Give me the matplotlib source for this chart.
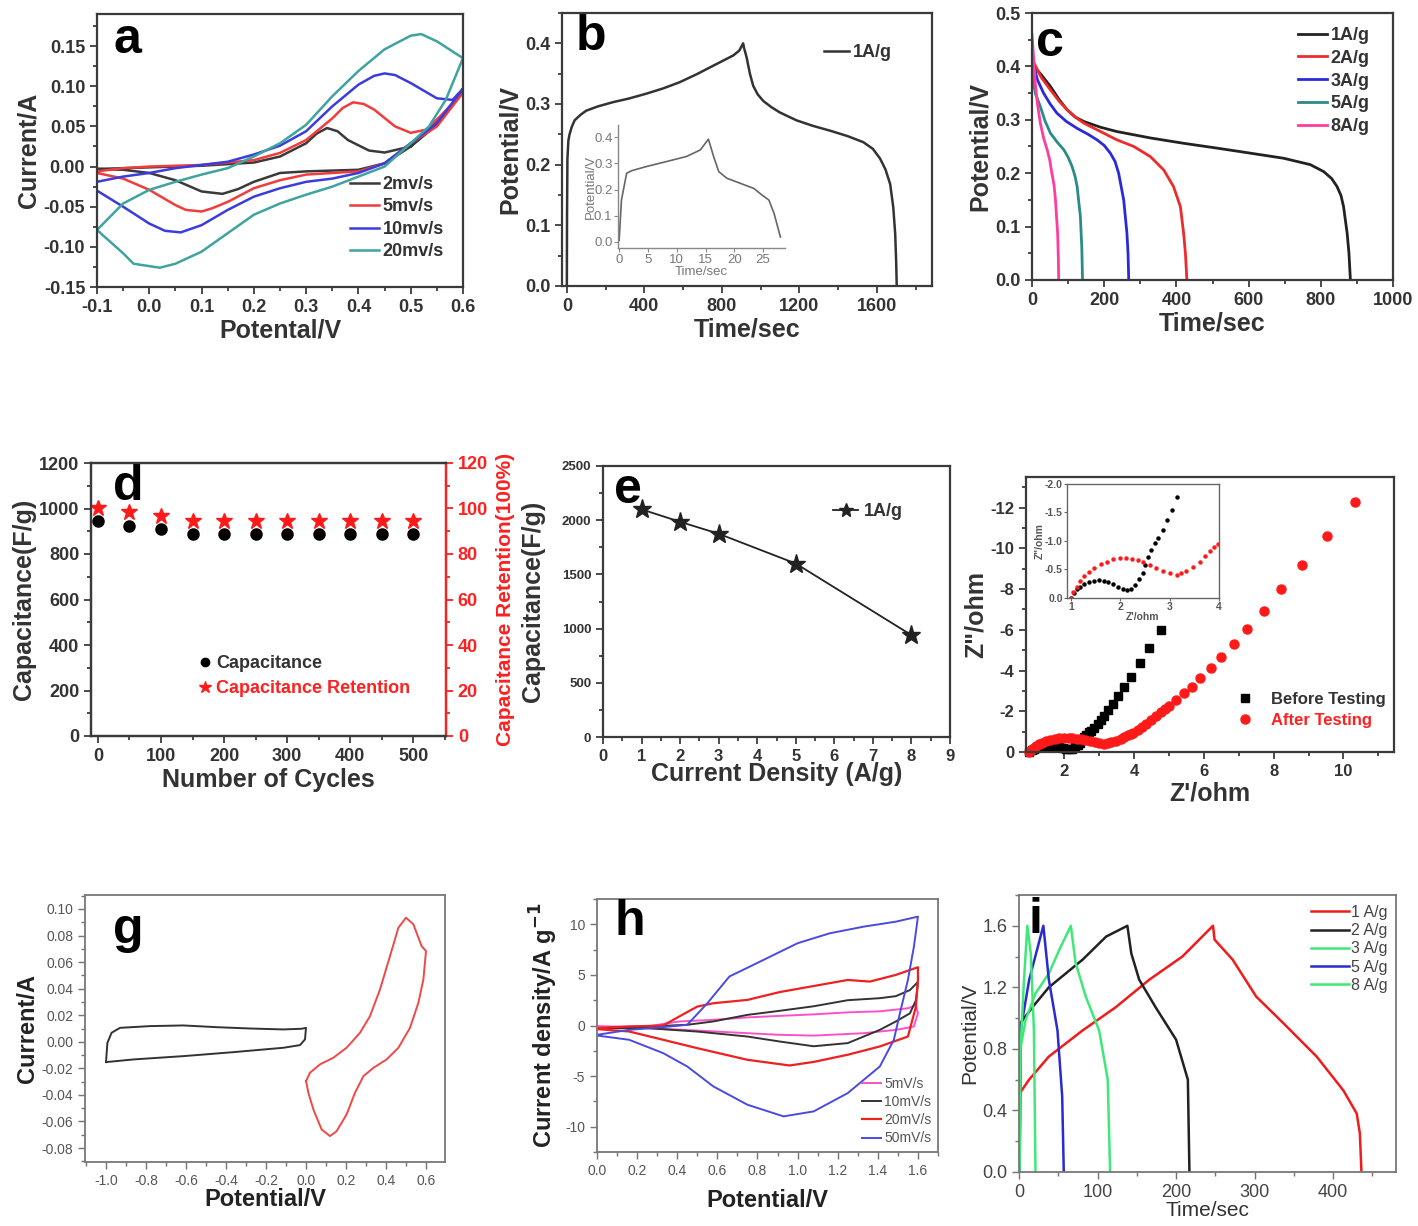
import matplotlib
matplotlib.use("Agg")
import matplotlib.pyplot as plt
from matplotlib.ticker import MultipleLocator

plt.rcParams['font.family'] = ['Liberation Sans', 'DejaVu Sans']
plt.rcParams['axes.unicode_minus'] = False

# ---------------- data ----------------
# (a) CV at different scan rates, loop: anodic branch then cathodic branch
a_2_x = [-0.1, -0.05, 0.0, 0.05, 0.1, 0.15, 0.2, 0.25, 0.3, 0.32, 0.34, 0.36, 0.38, 0.42, 0.45, 0.5, 0.55, 0.6,
         0.55, 0.5, 0.45, 0.4, 0.3, 0.25, 0.2, 0.17, 0.14, 0.1, 0.05, 0.0, -0.05, -0.1]
a_2_y = [-0.003, -0.002, -0.001, 0.0, 0.001, 0.003, 0.005, 0.0125, 0.029, 0.041, 0.048, 0.044, 0.033, 0.02, 0.0175, 0.025, 0.052, 0.094,
         0.055, 0.025, 0.004, -0.004, -0.006, -0.008, -0.019, -0.028, -0.034, -0.031, -0.017, -0.008, -0.004, -0.003]
a_5_x = [-0.1, -0.05, 0.0, 0.1, 0.2, 0.25, 0.3, 0.35, 0.37, 0.39, 0.41, 0.43, 0.47, 0.5, 0.53, 0.56, 0.6,
         0.55, 0.5, 0.45, 0.4, 0.3, 0.25, 0.2, 0.15, 0.12, 0.1, 0.07, 0.05, 0.0, -0.05, -0.1]
a_5_y = [-0.006, -0.002, 0.0, 0.002, 0.008, 0.017, 0.033, 0.06, 0.073, 0.08, 0.078, 0.071, 0.05, 0.042, 0.046, 0.065, 0.092,
         0.05, 0.029, 0.004, -0.006, -0.010, -0.017, -0.027, -0.044, -0.052, -0.056, -0.054, -0.048, -0.029, -0.015, -0.008]
a_10_x = [-0.1, -0.05, 0.0, 0.05, 0.1, 0.15, 0.2, 0.25, 0.3, 0.35, 0.4, 0.43, 0.45, 0.47, 0.5, 0.55, 0.58, 0.6,
          0.55, 0.5, 0.45, 0.4, 0.35, 0.3, 0.25, 0.2, 0.15, 0.1, 0.06, 0.03, 0.0, -0.05, -0.1]
a_10_y = [-0.019, -0.0125, -0.008, -0.002, 0.002, 0.006, 0.015, 0.026, 0.044, 0.075, 0.102, 0.113, 0.116, 0.114, 0.104, 0.085, 0.083, 0.097,
          0.054, 0.029, 0.004, -0.008, -0.015, -0.019, -0.027, -0.0375, -0.054, -0.073, -0.082, -0.08, -0.071, -0.05, -0.03]
a_20_x = [-0.1, -0.05, 0.0, 0.05, 0.1, 0.15, 0.2, 0.25, 0.3, 0.35, 0.4, 0.45, 0.5, 0.52, 0.55, 0.6,
          0.567, 0.535, 0.5, 0.45, 0.4, 0.35, 0.3, 0.25, 0.2, 0.15, 0.1, 0.05, 0.02, -0.03, -0.05, -0.1]
a_20_y = [-0.079, -0.046, -0.029, -0.019, -0.01, -0.002, 0.0125, 0.029, 0.052, 0.0875, 0.119, 0.146, 0.163, 0.165, 0.156, 0.135,
          0.083, 0.05, 0.029, 0.0, -0.0125, -0.025, -0.035, -0.046, -0.06, -0.083, -0.106, -0.121, -0.126, -0.121, -0.108, -0.079]

# (b) GCD at 1 A/g and inset
b_t = [0, 1, 3, 8, 14, 25, 40, 70, 100, 160, 238, 320, 410, 500, 583, 670, 755, 810, 859, 890, 910,
       915, 928, 945, 962, 985, 1014, 1055, 1100, 1186, 1270, 1359, 1450, 1531, 1580, 1617, 1645, 1669, 1685, 1695, 1700, 1703]
b_v = [0, 0.12, 0.21, 0.24, 0.25, 0.262, 0.273, 0.282, 0.289, 0.296, 0.303, 0.309, 0.317, 0.326, 0.336, 0.349, 0.363, 0.372, 0.38, 0.388, 0.4,
       0.392, 0.377, 0.35, 0.33, 0.316, 0.305, 0.295, 0.286, 0.273, 0.264, 0.256, 0.247, 0.237, 0.226, 0.21, 0.192, 0.168, 0.13, 0.086, 0.04, 0]
bi_t = [0, 0.4, 1.3, 2.2, 4.8, 8.3, 11.7, 14.1, 15.5, 16.4, 17.3, 18.7, 21, 23.4, 24.8, 26, 26.9, 28]
bi_v = [0.006, 0.16, 0.262, 0.272, 0.288, 0.307, 0.326, 0.351, 0.392, 0.326, 0.268, 0.243, 0.224, 0.204, 0.179, 0.16, 0.109, 0.019]

# (c) discharge curves
c_1_t = [0, 5, 25, 51, 75, 97, 120, 143, 190, 235, 328, 420, 512, 605, 697, 771, 808, 830, 845, 856, 863, 873, 878, 882]
c_1_v = [0.42, 0.4, 0.385, 0.3625, 0.338, 0.319, 0.305, 0.297, 0.286, 0.278, 0.266, 0.256, 0.247, 0.2375, 0.228, 0.216, 0.203, 0.19, 0.175, 0.158, 0.1375, 0.0875, 0.05, 0]
c_2_t = [0, 3, 25, 51, 75, 97, 120, 143, 190, 235, 282, 328, 365, 392, 411, 420, 425, 429]
c_2_v = [0.43, 0.41, 0.38, 0.356, 0.335, 0.319, 0.305, 0.294, 0.278, 0.2625, 0.25, 0.231, 0.206, 0.175, 0.1375, 0.0875, 0.05, 0]
c_3_t = [0, 3, 15, 32, 50, 69, 95, 125, 155, 180, 200, 217, 230, 240, 254, 263, 266, 268]
c_3_v = [0.42, 0.406, 0.375, 0.35, 0.33, 0.3125, 0.297, 0.284, 0.273, 0.2625, 0.252, 0.2375, 0.222, 0.2, 0.15, 0.0875, 0.05, 0]
c_5_t = [0, 2, 10, 23, 36, 51, 70, 88, 100, 111, 119, 125, 134, 138, 140]
c_5_v = [0.4, 0.375, 0.348, 0.325, 0.298, 0.275, 0.258, 0.244, 0.23, 0.2125, 0.195, 0.175, 0.119, 0.06, 0]
c_8_t = [0, 2, 5, 9, 15, 23, 32, 42, 49, 55, 61, 65, 71, 73, 74]
c_8_v = [0.46, 0.44, 0.41, 0.369, 0.33, 0.294, 0.266, 0.244, 0.225, 0.2, 0.178, 0.15, 0.0875, 0.04, 0]

# (d) cycling
d_cycles = [0, 50, 100, 150, 200, 250, 300, 350, 400, 450, 500]
d_cap = [945, 925, 908, 890, 890, 890, 890, 890, 890, 890, 890]
d_ret = [100, 98.3, 96.7, 94.6, 94.6, 94.6, 94.6, 94.6, 94.6, 94.6, 94.6]

# (e) rate capability
e_density = [1, 2, 3, 5, 8]
e_cap = [2100, 1985, 1875, 1600, 940]

# (f) Nyquist, Z' and Z''
f_before_re = [1.00, 1.06, 1.12, 1.19, 1.26, 1.36, 1.46, 1.56, 1.66, 1.76, 1.86, 1.96, 2.06, 2.14, 2.22, 2.30, 2.38,
               2.45, 2.51, 2.57, 2.63, 2.70, 2.77, 2.86, 2.95, 3.05, 3.15, 3.26, 3.39, 3.53, 3.70, 3.91, 4.17, 4.44, 4.78]
f_before_im = [0.00, -0.08, -0.15, -0.20, -0.24, -0.28, -0.30, -0.31, -0.30, -0.28, -0.25, -0.20, -0.15, -0.14, -0.16, -0.23, -0.33,
               -0.44, -0.58, -0.72, -0.85, -0.96, -1.05, -1.19, -1.36, -1.55, -1.78, -2.06, -2.38, -2.75, -3.17, -3.70, -4.36, -5.10, -6.00]
f_after_re = [1.00, 1.05, 1.12, 1.19, 1.26, 1.36, 1.46, 1.60, 1.73, 1.86, 2.00, 2.12, 2.23, 2.35, 2.47, 2.60, 2.73, 2.87, 3.00,
              3.14, 3.24, 3.34, 3.47, 3.61, 3.71, 3.81, 3.90, 3.98, 4.10, 4.22, 4.35, 4.48, 4.62, 4.76, 4.88, 4.99, 5.21,
              5.44, 5.66, 5.90, 6.19, 6.50, 6.85, 7.24, 7.71, 8.22, 8.82, 9.53, 10.33]
f_after_im = [0.00, -0.10, -0.20, -0.30, -0.38, -0.46, -0.53, -0.59, -0.64, -0.68, -0.70, -0.70, -0.68, -0.66, -0.63, -0.58, -0.53,
              -0.48, -0.43, -0.41, -0.43, -0.47, -0.55, -0.64, -0.73, -0.82, -0.89, -0.95, -1.08, -1.22, -1.38, -1.55, -1.75,
              -1.95, -2.10, -2.25, -2.55, -2.88, -3.21, -3.62, -4.10, -4.65, -5.31, -6.05, -6.94, -7.98, -9.18, -10.60, -12.29]

# (g) CV of the two electrodes
g_neg_x = [-1.0, -0.993, -0.972, -0.93, -0.78, -0.613, -0.447, -0.28, -0.113, -0.022, 0.0, -0.005, -0.03, -0.113, -0.363, -0.613, -0.863, -1.0]
g_neg_y = [-0.0153, -0.0008, 0.0068, 0.0105, 0.0118, 0.0123, 0.011, 0.010, 0.0093, 0.0098, 0.0105, 0.0018, -0.0025, -0.0045, -0.0078, -0.0108, -0.0133, -0.0153]
g_pos_x = [0.0, 0.02, 0.07, 0.137, 0.203, 0.27, 0.32, 0.37, 0.42, 0.462, 0.5, 0.537, 0.578, 0.6, 0.587, 0.562, 0.52, 0.462,
           0.403, 0.337, 0.287, 0.245, 0.203, 0.153, 0.12, 0.078, 0.037, 0.012, 0.0]
g_pos_y = [-0.0296, -0.0233, -0.017, -0.012, -0.0045, 0.0068, 0.0193, 0.0394, 0.0645, 0.0859, 0.0934, 0.0884, 0.072, 0.0683, 0.047,
           0.0294, 0.0105, -0.0045, -0.0133, -0.0196, -0.0259, -0.0384, -0.0547, -0.0673, -0.071, -0.066, -0.051, -0.0384, -0.0296]

# (h) CV of the device
h_5_x = [0.0, 0.25, 0.41, 0.58, 0.75, 0.91, 1.08, 1.25, 1.41, 1.55, 1.59, 1.6, 1.58, 1.49, 1.33, 1.08, 0.91, 0.75, 0.5, 0.25, 0.0]
h_5_y = [-0.1, -0.1, 0.4, 0.56, 0.8, 0.95, 1.1, 1.3, 1.4, 1.7, 2.0, 1.2, -0.1, -0.43, -0.76, -1.0, -0.92, -0.76, -0.5, -0.26, -0.1]
h_10_x = [0.0, 0.25, 0.45, 0.58, 0.75, 0.91, 1.08, 1.25, 1.41, 1.49, 1.56, 1.6, 1.59, 1.56, 1.49, 1.41, 1.25, 1.08, 0.91, 0.75, 0.5, 0.25, 0.0]
h_10_y = [-0.26, -0.1, 0.07, 0.4, 1.05, 1.45, 1.9, 2.5, 2.7, 2.9, 3.5, 4.3, 2.5, 1.2, 0.4, -0.43, -1.74, -2.05, -1.58, -1.09, -0.6, -0.26, -0.26]
h_20_x = [0.0, 0.16, 0.33, 0.41, 0.5, 0.58, 0.75, 0.91, 1.08, 1.25, 1.36, 1.49, 1.6, 1.6, 1.59, 1.55, 1.41, 1.25, 1.08, 0.96, 0.75, 0.5, 0.33, 0.16, 0.0]
h_20_y = [-0.26, -0.1, 0.0, 0.89, 1.87, 2.2, 2.53, 3.3, 3.9, 4.5, 4.34, 5.0, 5.76, 4.5, 1.87, -1.09, -2.07, -2.89, -3.6, -3.95, -3.39, -2.24, -1.41, -0.59, -0.36]
h_50_x = [0.0, 0.16, 0.33, 0.45, 0.55, 0.66, 0.83, 1.0, 1.16, 1.33, 1.49, 1.6, 1.58, 1.55, 1.51, 1.48, 1.41, 1.25, 1.08, 0.93, 0.75, 0.58, 0.45, 0.33, 0.16, 0.0]
h_50_y = [-0.92, -0.43, -0.16, 0.07, 2.2, 4.84, 6.48, 8.13, 9.11, 9.77, 10.26, 10.76, 7.8, 4.5, 1.2, -1.41, -4.05, -6.68, -8.49, -8.98, -7.83, -6.02, -4.05, -2.73, -1.41, -0.99]

# (i) GCD of the device
i_1_t = [0.8, 0.8, 12.8, 38, 81, 123, 166, 208, 247, 249, 272, 302, 336, 379, 413, 430, 434, 436]
i_1_v = [0, 0.51, 0.6, 0.75, 0.92, 1.07, 1.25, 1.4, 1.6, 1.51, 1.38, 1.14, 0.97, 0.75, 0.53, 0.38, 0.25, 0]
i_2_t = [0.8, 2, 17, 38, 81, 111, 138, 143, 153, 174, 200, 215, 217]
i_2_v = [0, 0.97, 1.07, 1.2, 1.38, 1.53, 1.6, 1.42, 1.25, 1.07, 0.86, 0.6, 0]
i_3_t = [0.8, 1, 2, 8.5, 21, 38, 51, 66, 72, 85, 102, 113, 116]
i_3_v = [0, 0.38, 0.81, 0.99, 1.16, 1.29, 1.44, 1.6, 1.36, 1.14, 0.92, 0.6, 0]
i_5_t = [0.8, 2, 13, 31, 38, 49, 55, 57]
i_5_v = [0, 0.92, 1.25, 1.6, 1.25, 0.92, 0.49, 0]
i_8_t = [0.8, 2, 6.4, 10.6, 15, 19, 21]
i_8_v = [0, 0.81, 1.25, 1.6, 1.42, 0.92, 0]

# ---------------- figure ----------------
W, H = 1418, 1226
fig = plt.figure(figsize=(W / 100, H / 100), dpi=100)


def place(box):
    l, r, t, b = box
    return fig.add_axes([l / W, 1 - b / H, (r - l) / W, (b - t) / H])


def at(box, px, py):
    l, r, t, b = box
    return ((px - l) / (r - l), (b - py) / (b - t))


def style(ax, fs=13, bold=True, col='#3a3a3a', tcol='#333333', lw=1.6):
    for s in ax.spines.values():
        s.set_color(col)
        s.set_linewidth(lw)
    ax.tick_params(which='both', direction='out', color=col, width=lw * 0.8, top=False, right=False)
    ax.tick_params(which='major', length=5, labelsize=fs, labelcolor=tcol)
    ax.tick_params(which='minor', length=3)
    plt.setp(ax.get_xticklabels() + ax.get_yticklabels(), fontweight='bold' if bold else 'normal')


def letter(ax, box, s, px, py, fs=36):
    ax.text(*at(box, px, py), s, transform=ax.transAxes, ha='center', va='center',
            fontsize=fs, fontweight='bold', color='black')


# ---- a ----
box_a = (97, 463, 14, 287)
ax = place(box_a)
ax.plot(a_2_x, a_2_y, color='#3a3a3a', lw=1.8, label='2mv/s')
ax.plot(a_5_x, a_5_y, color='#f03c3c', lw=1.8, label='5mv/s')
ax.plot(a_10_x, a_10_y, color='#3c3cdc', lw=1.8, label='10mv/s')
ax.plot(a_20_x, a_20_y, color='#3fa3a0', lw=1.8, label='20mv/s')
ax.set_xlim(-0.1, 0.6)
ax.set_ylim(-0.15, 0.19)
ax.xaxis.set_major_locator(MultipleLocator(0.1))
ax.xaxis.set_minor_locator(MultipleLocator(0.05))
ax.yaxis.set_major_locator(MultipleLocator(0.05))
ax.yaxis.set_minor_locator(MultipleLocator(0.025))
style(ax)
ax.set_xlabel('Potental/V', fontsize=18, fontweight='bold', color='#333333', labelpad=2)
ax.set_ylabel('Current/A', fontsize=18, fontweight='bold', color='#333333', labelpad=2)
ax.legend(loc='upper left', bbox_to_anchor=at(box_a, 350, 176), frameon=False, borderaxespad=0, borderpad=0,
          prop={'size': 13, 'weight': 'bold'}, handlelength=1.6, handletextpad=0.2, labelspacing=0.3, labelcolor='#333333')
letter(ax, box_a, 'a', 127, 40)

# ---- b ----
box_b = (562, 932, 13, 286)
ax = place(box_b)
ax.plot(b_t, b_v, color='#333333', lw=1.8, label='1A/g')
ax.set_xlim(-25, 1885)
ax.set_ylim(0, 0.45)
ax.xaxis.set_major_locator(MultipleLocator(400))
ax.xaxis.set_minor_locator(MultipleLocator(200))
ax.yaxis.set_major_locator(MultipleLocator(0.1))
ax.yaxis.set_minor_locator(MultipleLocator(0.05))
style(ax)
ax.set_xlabel('Time/sec', fontsize=18, fontweight='bold', color='#333333', labelpad=2)
ax.set_ylabel('Potential/V', fontsize=18, fontweight='bold', color='#333333', labelpad=2)
ax.legend(loc='upper left', bbox_to_anchor=at(box_b, 824, 44), frameon=False, borderaxespad=0, borderpad=0,
          prop={'size': 13, 'weight': 'bold'}, handlelength=1.4, handletextpad=0.2, labelcolor='#333333')
letter(ax, box_b, 'b', 591, 37)

box_bi = (618, 785, 125, 248)
axi = place(box_bi)
axi.plot(bi_t, bi_v, color='#666666', lw=1.2)
axi.set_xlim(-0.2, 28.8)
axi.set_ylim(-0.023, 0.446)
axi.xaxis.set_major_locator(MultipleLocator(5))
axi.yaxis.set_major_locator(MultipleLocator(0.1))
axi.spines['top'].set_visible(False)
axi.spines['right'].set_visible(False)
axi.patch.set_alpha(0)
style(axi, fs=9.5, bold=False, col='#888888', tcol='#777777', lw=1.0)
axi.tick_params(which='major', length=3, pad=1)
axi.set_xlabel('Time/sec', fontsize=9.5, color='#777777', labelpad=0)
axi.set_ylabel('Potential/V', fontsize=9.5, color='#777777', labelpad=-2)

# ---- c ----
box_c = (1032, 1393, 13, 280)
ax = place(box_c)
ax.plot(c_1_t, c_1_v, color='#222222', lw=2.0, label='1A/g')
ax.plot(c_2_t, c_2_v, color='#f02a2a', lw=2.0, label='2A/g')
ax.plot(c_3_t, c_3_v, color='#2a2ad8', lw=2.0, label='3A/g')
ax.plot(c_5_t, c_5_v, color='#2a8c84', lw=2.0, label='5A/g')
ax.plot(c_8_t, c_8_v, color='#ff3ca0', lw=2.0, label='8A/g')
ax.set_xlim(0, 1000)
ax.set_ylim(0, 0.5)
ax.xaxis.set_major_locator(MultipleLocator(200))
ax.xaxis.set_minor_locator(MultipleLocator(100))
ax.yaxis.set_major_locator(MultipleLocator(0.1))
ax.yaxis.set_minor_locator(MultipleLocator(0.05))
style(ax)
ax.set_xlabel('Time/sec', fontsize=18, fontweight='bold', color='#333333', labelpad=2)
ax.set_ylabel('Potential/V', fontsize=18, fontweight='bold', color='#333333', labelpad=2)
ax.legend(loc='upper left', bbox_to_anchor=at(box_c, 1298, 27), frameon=False, borderaxespad=0, borderpad=0,
          prop={'size': 13, 'weight': 'bold'}, handlelength=1.6, handletextpad=0.2, labelspacing=0.32, labelcolor='#333333')
letter(ax, box_c, 'c', 1050, 43)

# ---- d ----
box_d = (91, 446, 463, 736)
ax = place(box_d)
ax.plot(d_cycles, d_cap, 'o', color='black', ms=8, label='Capacitance')
ax.set_xlim(-11, 552)
ax.set_ylim(0, 1200)
ax.xaxis.set_major_locator(MultipleLocator(100))
ax.xaxis.set_minor_locator(MultipleLocator(50))
ax.yaxis.set_major_locator(MultipleLocator(200))
ax.yaxis.set_minor_locator(MultipleLocator(100))
style(ax)
ax.set_xlabel('Number of Cycles', fontsize=18, fontweight='bold', color='#333333', labelpad=2)
ax.set_ylabel('Capacitance(F/g)', fontsize=18, fontweight='bold', color='#333333', labelpad=2)
ax2 = ax.twinx()
ax2.plot(d_cycles, d_ret, '*', color='#ff1a1a', ms=12, label='Capacitance Retention')
ax2.set_ylim(0, 120)
ax2.yaxis.set_major_locator(MultipleLocator(20))
ax2.yaxis.set_minor_locator(MultipleLocator(10))
for s in ax2.spines.values():
    s.set_linewidth(1.6)
    s.set_color('#3a3a3a')
ax2.spines['right'].set_color('#ff2020')
ax2.tick_params(which='both', direction='out', color='#ff2020', width=1.3, right=True, left=False)
ax2.tick_params(which='major', length=5, labelsize=13, labelcolor='#ff2020')
ax2.tick_params(which='minor', length=3)
plt.setp(ax2.get_yticklabels(), fontweight='bold')
ax2.set_ylabel('Capacitance Retention(100%)', fontsize=15, fontweight='bold', color='#ff2020', labelpad=6)
h1, l1 = ax.get_legend_handles_labels()
h2, l2 = ax2.get_legend_handles_labels()
leg = ax2.legend(h1 + h2, l1 + l2, loc='upper left', bbox_to_anchor=at(box_d, 200, 655), frameon=False,
                 borderaxespad=0, borderpad=0, prop={'size': 13, 'weight': 'bold'}, handlelength=0.6,
                 handletextpad=0.3, labelspacing=0.45, markerscale=0.75)
leg.get_texts()[0].set_color('#333333')
leg.get_texts()[1].set_color('#ff2020')
letter(ax, box_d, 'd', 128, 487)

# ---- e ----
box_e = (603, 950, 466, 737)
ax = place(box_e)
ax.plot(e_density, e_cap, '-*', color='#222222', lw=1.3, ms=14, label='1A/g')
ax.set_xlim(0, 9)
ax.set_ylim(0, 2500)
ax.xaxis.set_major_locator(MultipleLocator(1))
ax.xaxis.set_minor_locator(MultipleLocator(0.5))
ax.yaxis.set_major_locator(MultipleLocator(500))
ax.yaxis.set_minor_locator(MultipleLocator(250))
style(ax, fs=12)
ax.tick_params(axis='y', labelsize=9.5)
ax.set_xlabel('Current Density (A/g)', fontsize=18, fontweight='bold', color='#333333', labelpad=-1)
ax.set_ylabel('Capacitance(F/g)', fontsize=18, fontweight='bold', color='#333333', labelpad=12)
ax.legend(loc='upper left', bbox_to_anchor=at(box_e, 833, 503), frameon=False, borderaxespad=0, borderpad=0,
          prop={'size': 13, 'weight': 'bold'}, handlelength=1.4, handletextpad=0.3, markerscale=0.75,
          labelcolor='#333333')
letter(ax, box_e, 'e', 628, 490)

# ---- f ----
box_f = (1026, 1394, 477, 752)
ax = place(box_f)
ax.plot(f_before_re, f_before_im, 's', color='black', ms=5.5, label='Before Testing', clip_on=False)
ax.plot(f_after_re, f_after_im, 'o', color='#ff1a1a', ms=6.5, label='After Testing', clip_on=False)
ax.set_xlim(0.9, 11.45)
ax.set_ylim(0, -13.5)
ax.xaxis.set_major_locator(MultipleLocator(2))
ax.xaxis.set_minor_locator(MultipleLocator(1))
ax.yaxis.set_major_locator(MultipleLocator(2))
ax.yaxis.set_minor_locator(MultipleLocator(1))
style(ax, fs=12)
ax.set_xlabel("Z'/ohm", fontsize=18, fontweight='bold', color='#333333', labelpad=2)
ax.set_ylabel('Z"/ohm', fontsize=18, fontweight='bold', color='#333333', labelpad=2)
leg = ax.legend(loc='upper left', bbox_to_anchor=at(box_f, 1238, 692), frameon=False, borderaxespad=0, borderpad=0,
                prop={'size': 12, 'weight': 'bold'}, handlelength=0.8, handletextpad=1.2, labelspacing=0.35)
leg.get_texts()[0].set_color('#333333')
leg.get_texts()[1].set_color('#ff2020')

box_fi = (1067, 1219, 484, 598)
axi = place(box_fi)
axi.plot(f_before_re, f_before_im, 'o', color='black', ms=2.2)
axi.plot(f_after_re, f_after_im, 'o', color='#ff1a1a', ms=2.2)
axi.set_xlim(0.92, 4)
axi.set_ylim(0, -2.0)
axi.xaxis.set_major_locator(MultipleLocator(1))
axi.yaxis.set_major_locator(MultipleLocator(0.5))
style(axi, fs=7.5, col='#666666', tcol='#555555', lw=1.0)
axi.tick_params(which='major', length=2, pad=1)
axi.set_xlabel("Z'/ohm", fontsize=7.5, fontweight='bold', color='#555555', labelpad=0)
axi.set_ylabel('Z"/ohm', fontsize=7.5, fontweight='bold', color='#555555', labelpad=0)
letter(ax, box_f, 'f', 1097, 510)

# ---- g ----
box_g = (85, 445, 895, 1162)
ax = place(box_g)
ax.plot(g_neg_x, g_neg_y, color='#333333', lw=1.4)
ax.plot(g_pos_x, g_pos_y, color='#f04848', lw=1.4)
ax.set_xlim(-1.105, 0.695)
ax.set_ylim(-0.0905, 0.1105)
ax.xaxis.set_major_locator(MultipleLocator(0.2))
ax.xaxis.set_minor_locator(MultipleLocator(0.1))
ax.yaxis.set_major_locator(MultipleLocator(0.02))
ax.yaxis.set_minor_locator(MultipleLocator(0.01))
style(ax, fs=10, bold=False, col='#777777', tcol='#555555', lw=1.3)
ax.set_xlabel('Potential/V', fontsize=17, fontweight='bold', color='#222222', labelpad=0)
ax.set_ylabel('Current/A', fontsize=17, fontweight='bold', color='#222222', labelpad=2)
letter(ax, box_g, 'g', 128, 930)

# ---- h ----
box_h = (597, 938, 899, 1152)
ax = place(box_h)
ax.plot(h_5_x, h_5_y, color='#ff50c8', lw=1.4, label='5mV/s')
ax.plot(h_10_x, h_10_y, color='#333333', lw=1.4, label='10mV/s')
ax.plot(h_20_x, h_20_y, color='#ee2020', lw=1.6, label='20mV/s')
ax.plot(h_50_x, h_50_y, color='#4a4ae0', lw=1.4, label='50mV/s')
ax.set_xlim(0, 1.7)
ax.set_ylim(-12.5, 12.5)
ax.xaxis.set_major_locator(MultipleLocator(0.2))
ax.xaxis.set_minor_locator(MultipleLocator(0.1))
ax.yaxis.set_major_locator(MultipleLocator(5))
ax.yaxis.set_minor_locator(MultipleLocator(2.5))
style(ax, fs=10, bold=False, col='#777777', tcol='#555555', lw=1.3)
ax.set_xlabel('Potential/V', fontsize=17, fontweight='bold', color='#222222', labelpad=8)
ax.set_ylabel('Current density/A g$^{\\mathbf{-1}}$', fontsize=17, fontweight='bold', color='#222222', labelpad=4)
ax.legend(loc='upper left', bbox_to_anchor=at(box_h, 862, 1077), frameon=False, borderaxespad=0, borderpad=0,
          prop={'size': 10}, handlelength=1.4, handletextpad=0.2, labelspacing=0.3, labelcolor='#555555')
letter(ax, box_h, 'h', 630, 922)

# ---- i ----
box_i = (1019, 1396, 895, 1172)
ax = place(box_i)
ax.plot(i_1_t, i_1_v, color='#ee1c1c', lw=1.8, label='1 A/g')
ax.plot(i_2_t, i_2_v, color='#222222', lw=1.8, label='2 A/g')
ax.plot(i_3_t, i_3_v, color='#40e878', lw=1.8, label='3 A/g')
ax.plot(i_5_t, i_5_v, color='#2a2ad0', lw=1.8, label='5 A/g')
ax.plot(i_8_t, i_8_v, color='#40e878', lw=1.8, label='8 A/g')
ax.set_xlim(0, 480)
ax.set_ylim(0, 1.8)
ax.xaxis.set_major_locator(MultipleLocator(100))
ax.xaxis.set_minor_locator(MultipleLocator(50))
ax.yaxis.set_major_locator(MultipleLocator(0.4))
ax.yaxis.set_minor_locator(MultipleLocator(0.2))
style(ax, fs=13, bold=False, col='#777777', tcol='#444444', lw=1.3)
ax.set_xlabel('Time/sec', fontsize=15, color='#333333', labelpad=0)
ax.set_ylabel('Potential/V', fontsize=15, color='#333333', labelpad=2)
ax.legend(loc='upper left', bbox_to_anchor=at(box_i, 1311, 905), frameon=False, borderaxespad=0, borderpad=0,
          prop={'size': 11.5}, handlelength=2.4, handletextpad=0.1, labelspacing=0.2, labelcolor='#444444')
letter(ax, box_i, 'i', 1035, 920)

fig.savefig('out.png', dpi=100)
